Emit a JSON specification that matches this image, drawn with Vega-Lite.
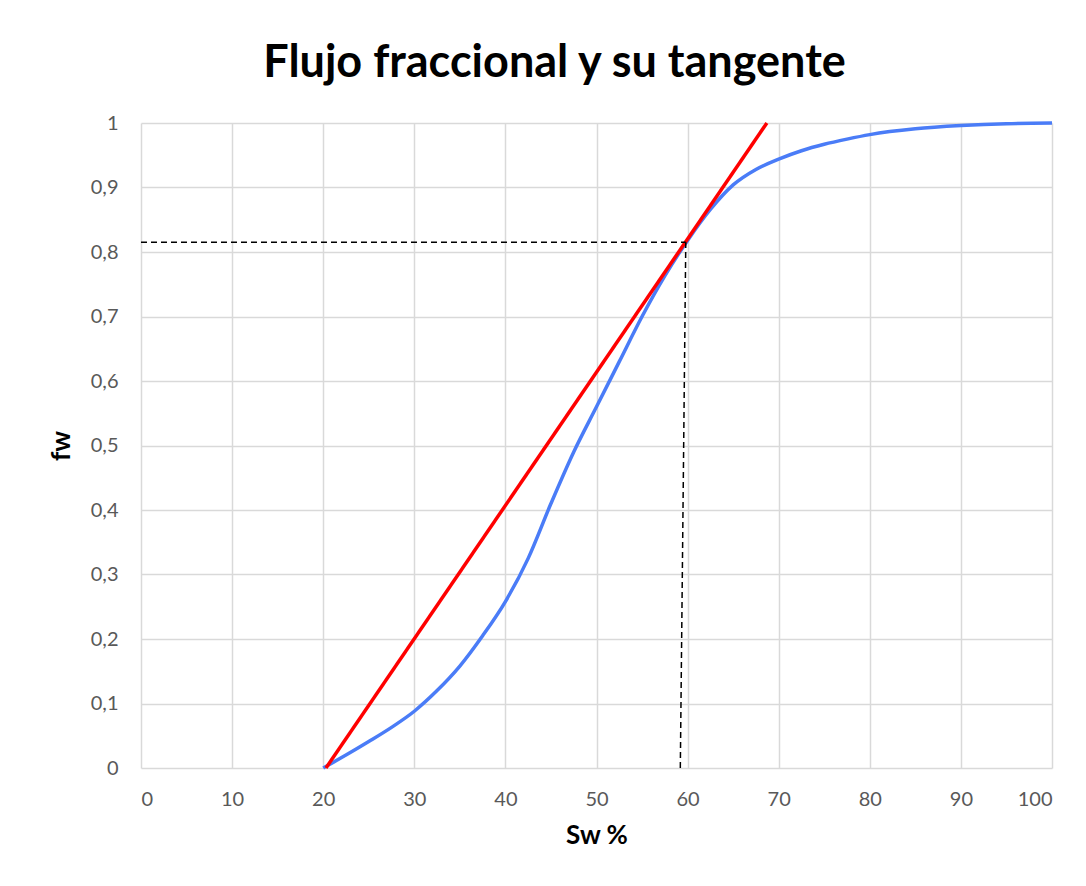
{
  "$schema": "https://vega.github.io/schema/vega-lite/v6.json",
  "autosize": {"type": "none"},
  "width": 911,
  "height": 645,
  "padding": {"left": 141, "top": 123, "right": 34, "bottom": 118},
  "background": "white",
  "title": {
    "text": "Flujo fraccional y su tangente",
    "font": "Lato",
    "fontSize": 45,
    "fontWeight": "bold",
    "color": "#000000",
    "anchor": "middle",
    "dx": -42,
    "offset": 27
  },
  "config": {
    "view": {"stroke": null},
    "axis": {
      "labelFont": "Lato",
      "labelFontSize": 20,
      "labelColor": "#595959",
      "titleFont": "Lato",
      "titleFontSize": 26,
      "titleFontWeight": "bold",
      "titleColor": "#000000",
      "gridColor": "#d9d9d9",
      "gridWidth": 1.5,
      "ticks": false,
      "domain": false
    }
  },
  "datasets": {
    "curve": [
      {"sw": 20, "fw": 0},
      {"sw": 22.5, "fw": 0.02},
      {"sw": 25, "fw": 0.041},
      {"sw": 27.5, "fw": 0.063},
      {"sw": 30, "fw": 0.088},
      {"sw": 32.5, "fw": 0.12},
      {"sw": 35, "fw": 0.158},
      {"sw": 37.5, "fw": 0.205},
      {"sw": 40, "fw": 0.258},
      {"sw": 42.5, "fw": 0.325},
      {"sw": 45, "fw": 0.41},
      {"sw": 47.5, "fw": 0.49},
      {"sw": 50, "fw": 0.56},
      {"sw": 52.5, "fw": 0.63},
      {"sw": 55, "fw": 0.7},
      {"sw": 57.5, "fw": 0.763},
      {"sw": 60, "fw": 0.818},
      {"sw": 62.5, "fw": 0.866},
      {"sw": 65, "fw": 0.904},
      {"sw": 67.5, "fw": 0.928},
      {"sw": 70, "fw": 0.944},
      {"sw": 72.5, "fw": 0.957},
      {"sw": 75, "fw": 0.967},
      {"sw": 77.5, "fw": 0.975},
      {"sw": 80, "fw": 0.982},
      {"sw": 85, "fw": 0.991},
      {"sw": 90, "fw": 0.996},
      {"sw": 95, "fw": 0.999},
      {"sw": 100, "fw": 1.0}
    ],
    "tangent": [
      {"sw": 20.3, "fw": 0},
      {"sw": 68.7, "fw": 1}
    ],
    "hdash": [
      {"sw": 0, "fw": 0.815},
      {"sw": 59.8, "fw": 0.815}
    ],
    "vdash": [
      {"sw": 59.8, "fw": 0.815},
      {"sw": 59.2, "fw": 0}
    ]
  },
  "layer": [
    {
      "data": {"name": "curve"},
      "mark": {"type": "line", "color": "#4a7cf7", "strokeWidth": 3.5, "interpolate": "monotone"},
      "encoding": {
        "x": {
          "field": "sw", "type": "quantitative",
          "scale": {"domain": [0, 100], "nice": false},
          "axis": {"values": [0,10,20,30,40,50,60,70,80,90,100], "title": "Sw %", "labelPadding": 21, "titlePadding": 13}
        },
        "y": {
          "field": "fw", "type": "quantitative",
          "scale": {"domain": [0, 1], "nice": false},
          "axis": {"values": [0,0.1,0.2,0.3,0.4,0.5,0.6,0.7,0.8,0.9,1], "title": "fw", "labelPadding": 23, "titlePadding": 16,
                   "labelExpr": "replace(format(datum.value, '.1~f'), '.', ',')"}
        }
      }
    },
    {
      "data": {"name": "tangent"},
      "mark": {"type": "line", "color": "#ff0000", "strokeWidth": 3.5},
      "encoding": {
        "x": {"field": "sw", "type": "quantitative"},
        "y": {"field": "fw", "type": "quantitative"}
      }
    },
    {
      "data": {"name": "hdash"},
      "mark": {"type": "line", "color": "#000000", "strokeWidth": 1.5, "strokeDash": [6, 4]},
      "encoding": {
        "x": {"field": "sw", "type": "quantitative"},
        "y": {"field": "fw", "type": "quantitative"}
      }
    },
    {
      "data": {"name": "vdash"},
      "mark": {"type": "line", "color": "#000000", "strokeWidth": 1.5, "strokeDash": [6, 4]},
      "encoding": {
        "x": {"field": "sw", "type": "quantitative"},
        "y": {"field": "fw", "type": "quantitative"}
      }
    }
  ]
}
